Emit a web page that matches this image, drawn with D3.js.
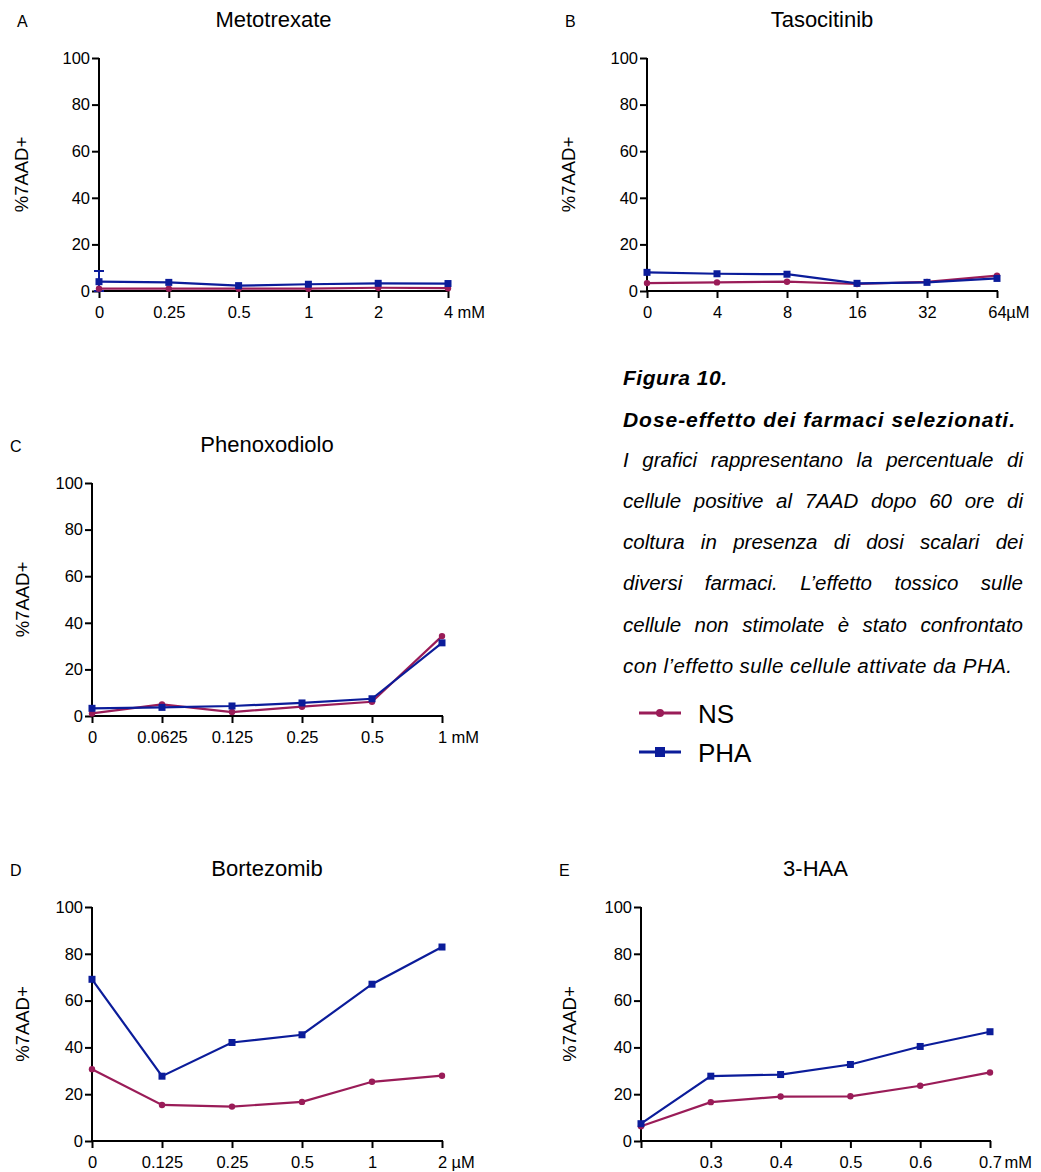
<!DOCTYPE html>
<html><head><meta charset="utf-8">
<script src="https://cdn.jsdelivr.net/npm/d3@7"></script>
<style>
body{margin:0;background:#fff}
svg{display:block}
text{font-family:"Liberation Sans",Arial,Helvetica,sans-serif;fill:#000}
</style>
</head><body>
<svg id="chart" width="1041" height="1172"></svg>
<script>
// ---------- data ----------
const yTicks = [0, 20, 40, 60, 80, 100];
const yLabel = "%7AAD+";
const seriesNames = ["NS", "PHA"];

const dosesA = ["0", "0.25", "0.5", "1", "2", "4"];
const nsA  = [1.0, 1.0, 1.0, 1.0, 1.4, 1.2];
const phaA = [4.0, 3.7, 2.3, 2.9, 3.3, 3.2];
const phaErrA = [4.6, 0, 0, 0, 0, 0];

const dosesB = ["0", "4", "8", "16", "32", "64"];
const nsB  = [3.4, 3.7, 4.0, 3.0, 3.9, 6.6];
const phaB = [8.0, 7.4, 7.2, 3.3, 3.7, 5.4];

const dosesC = ["0", "0.0625", "0.125", "0.25", "0.5", "1"];
const nsC  = [1.1, 5.0, 1.7, 4.0, 6.1, 34.3];
const phaC = [3.3, 3.7, 4.3, 5.6, 7.4, 31.4];

const dosesD = ["0", "0.125", "0.25", "0.5", "1", "2"];
const nsD  = [30.7, 15.4, 14.7, 16.7, 25.3, 27.9];
const phaD = [69.1, 27.7, 42.1, 45.4, 67.0, 82.9];

const dosesE = ["", "0.3", "0.4", "0.5", "0.6", "0.7"];
const nsE  = [6.3, 16.6, 19.0, 19.1, 23.6, 29.3];
const phaE = [7.4, 27.7, 28.4, 32.7, 40.4, 46.7];

const captionTitle = "Figura 10.";
const captionSubtitle = "Dose-effetto dei farmaci selezionati.";
const captionLines = [
  "I grafici rappresentano la percentuale di",
  "cellule positive al 7AAD dopo 60 ore di",
  "coltura in presenza di dosi scalari dei",
  "diversi farmaci. L\u2019effetto tossico sulle",
  "cellule non stimolate è stato confrontato",
  "con l\u2019effetto sulle cellule attivate da PHA."
];

// ---------- layout ----------
const colNS = "#9a1c58", colPHA = "#0b1c9a";
const panels = [
  {letter:"A", title:"Metotrexate", cats:dosesA, unit:"mM", ns:nsA, pha:phaA, err:phaErrA,
   x0:99, x1:448, yTop:58, yBot:291, titleY:27, letterX:17, ylabX:21, unitGap:5},
  {letter:"B", title:"Tasocitinib", cats:dosesB, unit:"\u00b5M", ns:nsB, pha:phaB,
   x0:647, x1:997, yTop:58, yBot:291, titleY:27, letterX:565, ylabX:568, unitGap:0},
  {letter:"C", title:"Phenoxodiolo", cats:dosesC, unit:"mM", ns:nsC, pha:phaC,
   x0:92, x1:442, yTop:483, yBot:716, titleY:452, letterX:10, ylabX:22, unitGap:5},
  {letter:"D", title:"Bortezomib", cats:dosesD, unit:"\u00b5M", ns:nsD, pha:phaD,
   x0:92, x1:442, yTop:907, yBot:1141, titleY:876, letterX:10, ylabX:22, unitGap:5},
  {letter:"E", title:"3-HAA", cats:dosesE, unit:"mM", ns:nsE, pha:phaE,
   x0:641, x1:990, yTop:907, yBot:1141, titleY:876, letterX:559, ylabX:569, unitGap:3},
];

const svg = d3.select("#chart");

panels.forEach(p => {
  const g = svg.append("g");
  const x = d3.scalePoint().domain(p.cats).range([p.x0, p.x1]).padding(0);
  const y = d3.scaleLinear().domain([0, 100]).range([p.yBot, p.yTop]);

  g.append("text").attr("x", p.letterX).attr("y", p.titleY)
    .style("font-size", "16px").text(p.letter);
  g.append("text").attr("x", (p.x0 + p.x1) / 2).attr("y", p.titleY)
    .attr("text-anchor", "middle").style("font-size", "22px").text(p.title);

  const ya = g.append("g").attr("transform", `translate(${p.x0},0)`)
    .call(d3.axisLeft(y).tickValues(yTicks).tickSize(7).tickSizeOuter(0).tickPadding(2));
  const xa = g.append("g").attr("transform", `translate(0,${p.yBot})`)
    .call(d3.axisBottom(x).tickSize(7).tickSizeOuter(0).tickPadding(8));
  [ya, xa].forEach(a => {
    a.selectAll("path,line").attr("stroke", "#000").attr("stroke-width", 2);
    a.selectAll("text").style("font-size", "16.5px").attr("fill", "#000")
      .style("font-family", '"Liberation Sans",Arial,Helvetica,sans-serif');
  });
  xa.select("path").attr("d", `M${p.x0 - 1},0H${p.x1 + 1}`);
  ya.select("path").attr("d", `M0,${p.yBot + 1}V${p.yTop}`);

  // unit after last tick label
  const lastTxt = xa.selectAll(".tick text").nodes().pop();
  const bb = lastTxt.getBBox();
  const lastX = x(p.cats[p.cats.length - 1]);
  g.append("text").attr("x", lastX + bb.x + bb.width + p.unitGap)
    .attr("y", p.yBot + 15).attr("dy", "0.71em")
    .style("font-size", "16.5px").text(p.unit);

  g.append("text")
    .attr("transform", `translate(${p.ylabX},${(p.yTop + p.yBot) / 2}) rotate(-90)`)
    .attr("text-anchor", "middle").attr("dominant-baseline", "central")
    .style("font-size", "18.5px").text(yLabel);

  const line = d3.line().x((d, i) => x(p.cats[i])).y(d => y(d));

  // error bars
  if (p.err) {
    p.err.forEach((e, i) => {
      if (!e) return;
      const cx = x(p.cats[i]);
      g.append("path")
        .attr("d", `M${cx},${y(p.pha[i] - e)}V${y(p.pha[i] + e)}M${cx - 5},${y(p.pha[i] + e)}H${cx + 5}M${cx - 5},${y(Math.max(0, p.pha[i] - e))}H${cx + 5}`)
        .attr("stroke", colPHA).attr("stroke-width", 2).attr("fill", "none");
    });
  }

  g.append("path").datum(p.ns).attr("d", line)
    .attr("fill", "none").attr("stroke", colNS).attr("stroke-width", 2.2);
  g.append("path").datum(p.pha).attr("d", line)
    .attr("fill", "none").attr("stroke", colPHA).attr("stroke-width", 2.2);

  g.selectAll(".ns").data(p.ns).join("circle")
    .attr("cx", (d, i) => x(p.cats[i])).attr("cy", d => y(d)).attr("r", 3.2)
    .attr("fill", colNS);
  g.selectAll(".pha").data(p.pha).join("rect")
    .attr("x", (d, i) => x(p.cats[i]) - 3.5).attr("y", d => y(d) - 3.5)
    .attr("width", 7).attr("height", 7).attr("fill", colPHA);
});

// ---------- caption ----------
const cap = svg.append("g");
const capX = 623, capW = 400;
cap.append("text").attr("x", capX).attr("y", 385)
  .style("font-size", "21px").style("font-weight", "bold").style("font-style", "italic")
  .attr("textLength", 104).attr("lengthAdjust", "spacing").text(captionTitle);
cap.append("text").attr("x", capX).attr("y", 427)
  .style("font-size", "21px").style("font-weight", "bold").style("font-style", "italic")
  .attr("textLength", 392).attr("lengthAdjust", "spacing").text(captionSubtitle);

const lineBase = [467, 508, 549, 590, 632, 673];
captionLines.forEach((ln, li) => {
  const t = cap.append("text").attr("y", lineBase[li])
    .style("font-size", "20.5px").style("font-style", "italic");
  if (li === captionLines.length - 1) {
    t.attr("x", capX).attr("textLength", 389).attr("lengthAdjust", "spacing").text(ln);
    return;
  }
  const words = ln.split(" ");
  const spans = words.map(w => t.append("tspan").text(w));
  const widths = spans.map(s => s.node().getComputedTextLength());
  const total = d3.sum(widths);
  const gap = (capW - total) / (words.length - 1);
  let cx = capX;
  spans.forEach((s, i) => { s.attr("x", cx); cx += widths[i] + gap; });
});

// ---------- legend ----------
const leg = svg.append("g");
const legY = [713, 752];
seriesNames.forEach((name, i) => {
  const c = i === 0 ? colNS : colPHA;
  leg.append("line").attr("x1", 639).attr("x2", 681).attr("y1", legY[i]).attr("y2", legY[i])
    .attr("stroke", c).attr("stroke-width", 3);
  if (i === 0) leg.append("circle").attr("cx", 660).attr("cy", legY[i]).attr("r", 4).attr("fill", c);
  else leg.append("rect").attr("x", 655).attr("y", legY[i] - 5).attr("width", 10).attr("height", 10).attr("fill", c);
  leg.append("text").attr("x", 698).attr("y", legY[i] + 10).style("font-size", "26px").text(name);
});
</script>
</body></html>
